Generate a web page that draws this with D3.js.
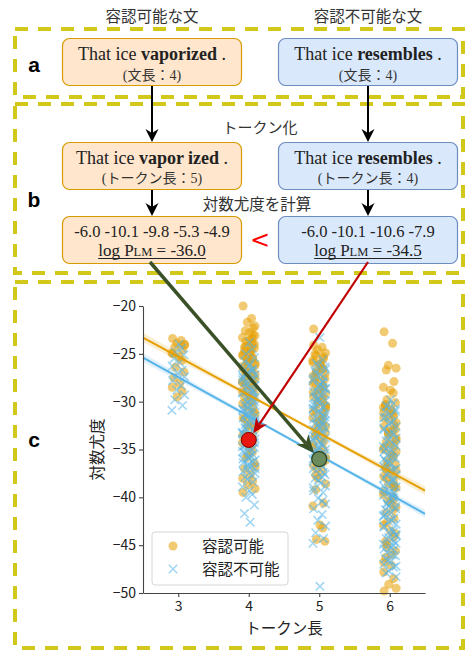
<!DOCTYPE html>
<html>
<head>
<meta charset="utf-8">
<script src="https://cdn.jsdelivr.net/npm/d3@7"></script>
<style>
  body { margin: 0; background: #fff; }
  svg { display: block; }
  text { white-space: pre; }
</style>
</head>
<body>
<svg id="fig" width="465" height="650"></svg>
<script>
// ---- data ----
const tokenLengths = [3, 4, 5, 6]
const xTicks = [3, 4, 5, 6]
const yTicks = [-20, -25, -30, -35, -40, -45, -50]
const seriesNames = ['容認可能', '容認不可能']

// log-likelihood per sentence, acceptable (ok) / unacceptable (ng), by token length
const ok3 = [-23.4, -23.6, -23.9, -24.1, -24.3, -24.6, -24.9, -25.3, -25.7, -26.4, -26.9, -27.5, -28.1, -28.5, -28.9, -29.5, -24.0, -25.0]
const ng3 = [-24.0, -24.4, -24.8, -25.1, -25.5, -25.9, -26.3, -26.7, -27.0, -27.4, -27.8, -28.3, -28.8, -29.3, -29.8, -30.4, -30.9]
const ok4 = [-20.0, -21.3, -21.7, -22.1, -22.6, -23.0, -23.3, -23.6, -23.9, -24.2, -24.4, -24.7, -25.0, -25.2, -25.5, -25.8, -26.0, -26.3,
  -26.6, -26.9, -27.1, -27.4, -27.7, -28.0, -28.3, -28.6, -28.9, -29.2, -29.5, -29.9, -30.2, -30.6, -31.0, -31.3, -31.7, -32.1,
  -32.5, -32.9, -33.4, -33.8, -34.3, -34.8, -35.3, -35.9, -36.4, -37.0, -37.6, -38.0, -38.3, -38.7, -39.1, -39.5, -24.5, -25.6,
  -23.1, -26.8, -22.3, -27.9, -22.8, -23.4, -23.7, -24.0, -24.3, -24.8, -25.1, -25.4, -25.9, -26.2, -26.5, -27.0, -27.3, -27.6,
  -28.2, -28.5, -29.0, -29.4, -30.0, -30.4, -31.1, -31.8, -32.6, -33.5, -34.5, -35.6, -36.8]
const ng4 = [-23.8, -24.5, -25.0, -25.4, -25.8, -26.1, -26.4, -26.7, -27.0, -27.2, -27.5, -27.8, -28.0, -28.3, -28.5, -28.8, -29.0,
  -29.3, -29.5, -29.8, -30.0, -30.3, -30.5, -30.8, -31.0, -31.2, -31.5, -31.7, -32.0, -32.2, -32.5, -32.7, -33.0, -33.2, -33.5,
  -33.8, -34.0, -34.3, -34.6, -34.9, -35.2, -35.5, -35.8, -36.1, -36.4, -36.8, -37.1, -37.5, -37.9, -38.4, -38.9, -39.3, -39.7,
  -40.0, -40.8, -41.7, -42.6, -27.3, -28.9, -30.6, -31.9, -33.4, -35.0, -36.6, -29.6, -32.8, -26.9, -34.7, -26.2, -26.6, -27.1,
  -27.6, -28.1, -28.6, -29.1, -29.7, -30.1, -30.4, -30.9, -31.3, -31.6, -32.1, -32.4, -32.9, -33.3, -33.7, -34.1, -34.5, -34.8,
  -35.3, -35.7, -36.0, -36.3, -36.7, -37.0, -37.3, -37.7, -38.1, -33.9, -31.4, -29.2, -27.7, -35.9]
const ok5 = [-22.4, -24.3, -24.6, -24.9, -25.2, -25.5, -25.9, -26.2, -26.5, -26.8, -27.1, -27.5, -27.8, -28.1, -28.5, -28.8, -29.1,
  -29.5, -29.8, -30.2, -30.5, -30.9, -31.3, -31.7, -32.0, -32.4, -32.8, -33.2, -33.6, -34.0, -34.5, -35.0, -35.5, -36.1, -36.7,
  -37.3, -38.0, -38.6, -39.2, -40.6, -40.9, -42.9, -43.2, -44.4, -44.6, -25.0, -26.0, -27.3, -28.3, -29.3, -30.7, -24.1, -31.5,
  -33.0, -35.8, -37.7, -25.3, -25.7, -26.1, -26.6, -27.0, -27.6, -28.0, -28.6, -29.0, -29.6, -30.0, -30.4, -31.0, -31.8, -32.2,
  -32.6, -33.4, -34.2, -34.8, -35.3, -36.4, -37.0]
const ng5 = [-23.3, -25.6, -26.0, -26.4, -26.8, -27.2, -27.6, -28.0, -28.4, -28.7, -29.0, -29.3, -29.6, -29.9, -30.2, -30.5, -30.8,
  -31.1, -31.4, -31.7, -32.0, -32.3, -32.6, -32.9, -33.2, -33.5, -33.8, -34.1, -34.4, -34.7, -35.0, -35.3, -35.7, -36.0, -36.4,
  -36.8, -37.2, -37.6, -38.0, -38.5, -39.0, -39.5, -40.1, -40.7, -41.2, -41.8, -42.4, -43.0, -43.7, -44.3, -44.8, -49.3, -27.9,
  -29.8, -31.6, -33.7, -35.5, -30.7, -32.4, -34.9, -28.6, -36.2, -37.9, -26.2, -26.6, -27.0, -27.4, -27.8, -28.2, -28.5, -28.9,
  -29.2, -29.5, -30.0, -30.3, -30.6, -31.0, -31.3, -31.8, -32.1, -32.5, -32.8, -33.1, -33.4, -33.9, -34.2, -34.6, -35.1, -35.4,
  -35.9, -36.5, -37.0, -37.4, -38.2, -38.8, -39.3, -40.4]
const ok6 = [-22.7, -23.9, -26.2, -26.5, -26.7, -27.9, -28.5, -28.8, -29.1, -29.8, -30.1, -30.4, -30.8, -31.1, -31.5, -31.9, -32.2,
  -32.6, -33.0, -33.4, -33.8, -34.2, -34.6, -35.0, -35.4, -35.8, -36.2, -36.6, -37.0, -37.4, -37.8, -38.2, -38.6, -39.0, -39.4,
  -39.9, -40.4, -41.0, -41.6, -42.2, -42.9, -43.5, -44.2, -44.9, -45.6, -46.3, -47.1, -47.8, -48.5, -49.1, -49.5, -49.8, -31.3,
  -33.1, -35.2, -36.9, -38.8, -30.6, -34.4, -40.2, -45.2, -32.9, -30.3, -31.0, -31.7, -32.4, -33.3, -34.0, -34.8, -35.6, -36.4,
  -37.2, -38.0, -38.9, -39.7, -40.6, -41.3, -42.6, -43.8, -44.6, -46.0, -46.8]
const ng6 = [-29.8, -30.2, -30.5, -30.8, -31.1, -31.4, -31.7, -32.0, -32.3, -32.6, -32.9, -33.2, -33.5, -33.8, -34.1, -34.4, -34.7,
  -35.0, -35.3, -35.6, -35.9, -36.2, -36.5, -36.8, -37.1, -37.4, -37.7, -38.0, -38.3, -38.6, -38.9, -39.2, -39.5, -39.8, -40.1,
  -40.4, -40.7, -41.0, -41.3, -41.6, -41.9, -42.2, -42.5, -42.8, -43.1, -43.4, -43.7, -44.0, -44.3, -44.6, -44.9, -45.2, -45.5,
  -45.8, -46.1, -46.4, -46.7, -47.0, -47.3, -47.7, -48.3, -36.0, -38.1, -40.9, -43.9, -34.9, -39.6, -42.0, -37.2, -45.0, -30.4,
  -31.0, -31.6, -32.2, -32.8, -33.4, -34.0, -34.6, -35.2, -35.8, -36.4, -37.0, -37.6, -38.2, -38.8, -39.4, -40.0, -40.6, -41.2,
  -41.8, -42.4, -43.0, -43.6, -44.2, -44.8, -45.4, -46.0, -46.6, -47.2, -47.9]

// strip-plot jitter offsets (token units), cycled over points
const jitter = [-0.08, 0.04, -0.02, 0.09, -0.05, 0.06, -0.09, 0.01, 0.05, -0.04, 0.08, -0.06, 0.02, -0.085, 0.055, -0.015, 0.09]

// regression fits [intercept, slope] and confidence band half widths
const fitOk = [-13.3, -4.0]
const fitNg = [-15.2, -4.08]
const bandX = [2.5, 3.5, 4.5, 5.5, 6.5]
const bandOk = [0.5, 0.3, 0.18, 0.25, 0.45]
const bandNg = [0.45, 0.28, 0.15, 0.22, 0.4]

// highlighted examples [token length, log likelihood]
const exampleOk = [5, -36.0]
const exampleNg = [4, -34.0]

// token log-probs shown in panel b
const tokensOk = ['-6.0', '-10.1', '-9.8', '-5.3', '-4.9']
const tokensNg = ['-6.0', '-10.1', '-10.6', '-7.9']
const logPOk = '-36.0'
const logPNg = '-34.5'

// ---- styles ----
const C = {
  ok: '#E69F00', ng: '#56B4E9',
  okFill: '#ffe6cc', okStroke: '#d79b00',
  ngFill: '#dae8fc', ngStroke: '#6c8ebf',
  dash: '#d2c81a', text: '#333',
  green: '#3a5128', greenFill: '#6b8b5d', red: '#c00000', redFill: '#e8170f'
}
const jp = '"Noto Sans CJK JP", "Noto Sans", sans-serif'
const serif = '"Liberation Serif", "DejaVu Serif", "Noto Sans CJK JP", serif'

const svg = d3.select('#fig')

// ---- dashed panels ----
const panels = [
  {label: 'a', y0: 29, y1: 97, ly: 72},
  {label: 'b', y0: 104, y1: 273, ly: 207},
  {label: 'c', y0: 282, y1: 648, ly: 447}
]
panels.forEach(p => {
  svg.append('rect')
    .attr('x', 15).attr('y', p.y0)
    .attr('width', 448).attr('height', p.y1 - p.y0)
    .attr('fill', 'none')
    .attr('stroke', C.dash)
    .attr('stroke-width', 4)
    .attr('stroke-dasharray', '13 10')
  svg.append('text')
    .attr('x', 34).attr('y', p.ly)
    .attr('text-anchor', 'middle')
    .attr('font-family', '"Liberation Sans", Arial, sans-serif')
    .attr('font-weight', 'bold')
    .attr('font-size', 21)
    .text(p.label)
})

// ---- column titles ----
const colX = [152, 368]
;['容認可能な文', '容認不可能な文'].forEach((t, i) => {
  svg.append('text')
    .attr('x', colX[i]).attr('y', 22)
    .attr('text-anchor', 'middle')
    .attr('font-family', jp).attr('font-size', 15.5)
    .attr('fill', C.text)
    .text(t)
})

// ---- boxes ----
function box(x, y, w, h, kind) {
  svg.append('rect')
    .attr('x', x + 0.5).attr('y', y + 0.5)
    .attr('width', w).attr('height', h)
    .attr('rx', 7)
    .attr('fill', kind === 'ok' ? C.okFill : C.ngFill)
    .attr('stroke', kind === 'ok' ? C.okStroke : C.ngStroke)
    .attr('stroke-width', 1.2)
}
function sentence(cx, y, head, bold, tail) {
  const t = svg.append('text')
    .attr('x', cx).attr('y', y)
    .attr('text-anchor', 'middle')
    .attr('font-family', serif).attr('font-size', 18)
    .attr('fill', '#222')
  t.append('tspan').text(head)
  t.append('tspan').attr('font-weight', 'bold').text(bold)
  t.append('tspan').text(tail)
}
function note(cx, y, s) {
  svg.append('text')
    .attr('x', cx).attr('y', y)
    .attr('text-anchor', 'middle')
    .attr('font-family', serif).attr('font-size', 14)
    .attr('fill', C.text)
    .text(s)
}
function logBox(cx, y, toks, lp) {
  svg.append('text')
    .attr('x', cx).attr('y', y)
    .attr('text-anchor', 'middle')
    .attr('font-family', serif).attr('font-size', 16.5)
    .attr('fill', '#222')
    .text(toks.join(' '))
  const t = svg.append('text')
    .attr('x', cx).attr('y', y + 19)
    .attr('text-anchor', 'middle')
    .attr('font-family', serif).attr('font-size', 17)
    .attr('fill', '#222')
  t.append('tspan').text('log P')
  t.append('tspan').attr('font-size', 12.5).text('LM')
  t.append('tspan').text(` = ${lp}`)
  const bb = t.node().getBBox()
  svg.append('line')
    .attr('x1', bb.x).attr('x2', bb.x + bb.width)
    .attr('y1', y + 21.5).attr('y2', y + 21.5)
    .attr('stroke', '#222').attr('stroke-width', 1)
}

const boxW = 179, bx = [62, 278]
box(bx[0], 38, boxW, 47, 'ok')
box(bx[1], 38, boxW, 47, 'ng')
sentence(colX[0], 60, 'That ice ', 'vaporized', ' .')
sentence(colX[1], 60, 'That ice ', 'resembles', ' .')
note(colX[0], 80, '(文長：4)')
note(colX[1], 80, '(文長：4)')

box(bx[0], 142, boxW, 47, 'ok')
box(bx[1], 142, boxW, 47, 'ng')
sentence(colX[0], 164, 'That ice ', 'vapor ized', ' .')
sentence(colX[1], 164, 'That ice ', 'resembles', ' .')
note(colX[0], 183, '(トークン長：5)')
note(colX[1], 183, '(トークン長：4)')

box(bx[0], 216, boxW, 47, 'ok')
box(bx[1], 216, boxW, 47, 'ng')
logBox(colX[0], 237, tokensOk, logPOk)
logBox(colX[1], 237, tokensNg, logPNg)

svg.append('text')
  .attr('x', 260).attr('y', 133)
  .attr('text-anchor', 'middle')
  .attr('font-family', jp).attr('font-size', 15)
  .attr('fill', C.text)
  .text('トークン化')
svg.append('text')
  .attr('x', 257).attr('y', 210)
  .attr('text-anchor', 'middle')
  .attr('font-family', jp).attr('font-size', 15.5)
  .attr('fill', C.text)
  .text('対数尤度を計算')
svg.append('text')
  .attr('x', 260).attr('y', 248)
  .attr('text-anchor', 'middle')
  .attr('font-family', '"DejaVu Sans", sans-serif').attr('font-size', 24)
  .attr('fill', '#ff0000')
  .text('<')

// ---- arrows (line + notched head) ----
function arrow(x1, y1, x2, y2, color, width, len, half) {
  const a = Math.atan2(y2 - y1, x2 - x1),
    ux = Math.cos(a), uy = Math.sin(a),
    bx0 = x2 - ux * len, by0 = y2 - uy * len,
    nx = x2 - ux * len * 0.7, ny = y2 - uy * len * 0.7
  svg.append('line')
    .attr('x1', x1).attr('y1', y1)
    .attr('x2', nx).attr('y2', ny)
    .attr('stroke', color).attr('stroke-width', width)
  svg.append('path')
    .attr('d', `M${x2},${y2}L${bx0 - uy * half},${by0 + ux * half}L${nx},${ny}L${bx0 + uy * half},${by0 - ux * half}Z`)
    .attr('fill', color)
}

// ---- chart (panel c) ----
const x = d3.scaleLinear().domain([2.5, 6.5]).range([143, 425])
const y = d3.scaleLinear().domain([-50, -20]).range([593, 306])

const g = svg.append('g')

// regression bands + lines
function fitLine(fit, band, color) {
  const pred = v => fit[0] + fit[1] * v
  const area = d3.area()
    .x((d, i) => x(d))
    .y0((d, i) => y(pred(d) - band[i]))
    .y1((d, i) => y(pred(d) + band[i]))
  g.append('path')
    .attr('d', area(bandX))
    .attr('fill', color).attr('opacity', 0.18)
  g.append('line')
    .attr('x1', x(2.5)).attr('y1', y(pred(2.5)))
    .attr('x2', x(6.5)).attr('y2', y(pred(6.5)))
    .attr('stroke', color).attr('stroke-width', 2)
}

const okCols = [ok3, ok4, ok5, ok6]
const ngCols = [ng3, ng4, ng5, ng6]

// acceptable: circles
okCols.forEach((vals, ci) => {
  g.append('g').selectAll('circle')
    .data(vals)
    .join('circle')
    .attr('cx', (d, i) => x(tokenLengths[ci] + jitter[i % jitter.length]))
    .attr('cy', d => y(d))
    .attr('r', 4.5)
    .attr('fill', C.ok)
    .attr('fill-opacity', 0.55)
})
// unacceptable: crosses
const cross = d3.symbol().type(d3.symbolX).size(48)
ngCols.forEach((vals, ci) => {
  g.append('g').selectAll('path')
    .data(vals)
    .join('path')
    .attr('d', cross)
    .attr('transform', (d, i) =>
      `translate(${x(tokenLengths[ci] + jitter[(i + 7) % jitter.length])},${y(d)})`)
    .attr('fill', 'none')
    .attr('stroke', C.ng)
    .attr('stroke-width', 1.6)
    .attr('stroke-opacity', 0.55)
})

fitLine(fitOk, bandOk, C.ok)
fitLine(fitNg, bandNg, C.ng)

// axes
const fmt = d => String(d).replace('-', '\u2212')
const yAxis = g.append('g')
  .attr('transform', `translate(${x(2.5)},0)`)
  .call(d3.axisLeft(y).tickValues(yTicks).tickFormat(fmt).tickSize(4).tickSizeOuter(0))
const xAxis = g.append('g')
  .attr('transform', `translate(0,${y(-50)})`)
  .call(d3.axisBottom(x).tickValues(xTicks).tickFormat(d3.format('d')).tickSize(4).tickSizeOuter(0))
;[xAxis, yAxis].forEach(ax => {
  ax.selectAll('path, line').attr('stroke', '#444').attr('stroke-width', 1.1)
  ax.selectAll('text')
    .attr('font-family', jp).attr('font-size', 14)
    .attr('fill', '#222')
})
yAxis.selectAll('text').attr('x', -7)
xAxis.selectAll('text').attr('y', 8)

g.append('text')
  .attr('x', (x(2.5) + x(6.5)) / 2).attr('y', 634)
  .attr('text-anchor', 'middle')
  .attr('font-family', jp).attr('font-size', 15.5)
  .attr('fill', '#222')
  .text('トークン長')
g.append('text')
  .attr('transform', `translate(103,${(y(-20) + y(-50)) / 2}) rotate(-90)`)
  .attr('text-anchor', 'middle')
  .attr('font-family', jp).attr('font-size', 15.5)
  .attr('fill', '#222')
  .text('対数尤度')

// legend
const leg = g.append('g').attr('transform', 'translate(152,532)')
leg.append('rect')
  .attr('width', 136).attr('height', 53).attr('rx', 3)
  .attr('fill', '#fff').attr('fill-opacity', 0.85)
  .attr('stroke', '#d6d6d6')
seriesNames.forEach((name, i) => {
  const row = leg.append('g').attr('transform', `translate(21,${14 + i * 23})`)
  if (i === 0) {
    row.append('circle').attr('r', 4.5).attr('fill', C.ok).attr('fill-opacity', 0.55)
  } else {
    row.append('path').attr('d', cross).attr('fill', 'none')
      .attr('stroke', C.ng).attr('stroke-width', 1.6).attr('stroke-opacity', 0.55)
  }
  row.append('text')
    .attr('x', 29).attr('y', 5.5)
    .attr('font-family', jp).attr('font-size', 15.5)
    .attr('fill', '#222')
    .text(name)
})

// highlighted examples
const pOk = [x(exampleOk[0]), y(exampleOk[1])]
const pNg = [x(exampleNg[0]), y(exampleNg[1])]
g.append('circle')
  .attr('cx', pNg[0]).attr('cy', pNg[1]).attr('r', 7.5)
  .attr('fill', C.redFill).attr('stroke', '#7a0000').attr('stroke-width', 1)
g.append('circle')
  .attr('cx', pOk[0]).attr('cy', pOk[1]).attr('r', 7.5)
  .attr('fill', C.greenFill).attr('stroke', '#2c4220').attr('stroke-width', 1.2)

// ---- flow arrows ----
colX.forEach(cx => {
  arrow(cx, 86, cx, 142, '#000', 2, 13, 6.5)
  arrow(cx, 190, cx, 216, '#000', 2, 13, 6.5)
})
// from log boxes down to the matching points
function toPoint(sx, sy, p, r) {
  const a = Math.atan2(p[1] - sy, p[0] - sx)
  return [p[0] - Math.cos(a) * r, p[1] - Math.sin(a) * r]
}
const eOk = toPoint(150, 262, pOk, 8)
const eNg = toPoint(368, 262, pNg, 8)
arrow(150, 262, eOk[0], eOk[1], C.green, 3.5, 18, 8)
arrow(368, 262, eNg[0], eNg[1], C.red, 2.2, 15, 6.5)
</script>
</body>
</html>
